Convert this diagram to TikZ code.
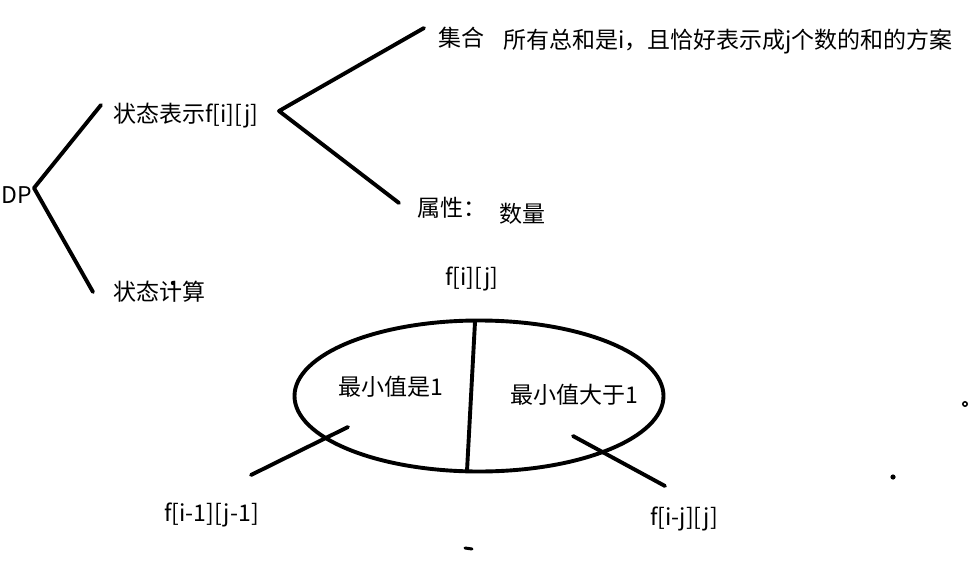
\documentclass[tikz,border=0pt]{standalone}
\usepackage{fontspec}
\setmainfont{Noto Sans CJK SC}
\usetikzlibrary{shapes.geometric}
\begin{document}
\begin{tikzpicture}[x=1pt,y=-1pt,
    lbl/.style={inner sep=0pt,anchor=west,font=\fontsize{23}{26}\selectfont},
    stroke/.style={line width=3.9pt,line cap=round,line join=round}]
  \useasboundingbox (0,0) rectangle (978,565);
  % tree on the left
  \node[lbl] (dp) at (1,195) {DP};
  \node[lbl] (repr) at (113,116) {状态表示f[i][j]};
  \node[lbl] (calc) at (113,292) {状态计算};
  \node[lbl] (set) at (438,38) {集合};
  \node[lbl] (setdesc) at (503,42) {所有总和是i，且恰好表示成j个数的和的方案};
  \node[lbl] (attr) at (417,208) {属性：};
  \node[lbl] (attrval) at (499,214) {数量};
  \coordinate (dpfork) at (34,188);
  \coordinate (reprend) at (101,105);
  \coordinate (calcend) at (93,292);
  \coordinate (reprfork) at (279,111);
  \coordinate (setend) at (424,28);
  \coordinate (attrend) at (399,203);
  \draw[stroke] (reprend) -- (dpfork) -- (calcend);
  \draw[stroke] (setend) -- (reprfork) -- (attrend);
  \fill (173,283) circle (2.2);
  % split of f[i][j]
  \node[lbl,anchor=center] (fij) at (472,279) {f[i][j]};
  \node[draw,ellipse,line width=3.9pt,minimum width=369pt,minimum height=151pt,inner sep=0pt]
    (whole) at (479,396) {};
  \coordinate (cuttop) at (475,322);
  \coordinate (cutbot) at (467,471);
  \draw[stroke] (cuttop) -- (cutbot);
  \node[lbl] (one) at (338,387) {最小值是1};
  \node[lbl] (more) at (510,395) {最小值大于1};
  \node[lbl,anchor=east] (left) at (259,515) {f[i-1][j-1]};
  \node[lbl] (right) at (650,519) {f[i-j][j]};
  \coordinate (onetip) at (348,427);
  \coordinate (leftend) at (251,475);
  \coordinate (moretip) at (573,436);
  \coordinate (rightend) at (665,486);
  \draw[stroke] (onetip) -- (leftend);
  \draw[stroke] (moretip) -- (rightend);
  % stray marks
  \draw[line width=1.5pt] (965,404) circle (2.2);
  \fill (893,477) circle (2.6);
  \draw[line width=3pt,line cap=round] (465,548) -- (472,549);
\end{tikzpicture}
\end{document}
